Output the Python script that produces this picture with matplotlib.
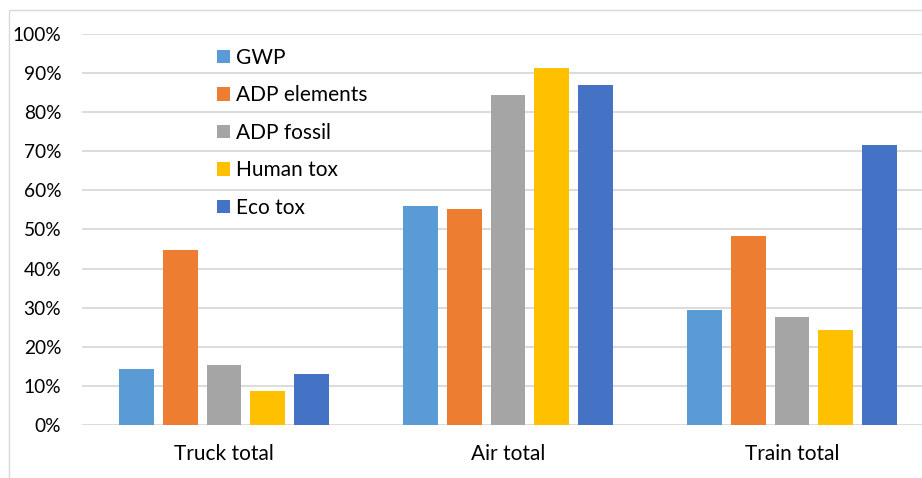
import matplotlib
matplotlib.use("Agg")
import matplotlib.pyplot as plt
import numpy as np
from matplotlib.patches import Rectangle
from matplotlib.ticker import PercentFormatter, MultipleLocator

categories = ["Truck total", "Air total", "Train total"]
series_names = ["GWP", "ADP elements", "ADP fossil", "Human tox", "Eco tox"]
gwp = [0.143, 0.560, 0.294]
adp_elements = [0.448, 0.552, 0.484]
adp_fossil = [0.154, 0.844, 0.275]
human_tox = [0.087, 0.912, 0.242]
eco_tox = [0.130, 0.869, 0.715]
colors = ["#5B9BD5", "#ED7D31", "#A5A5A5", "#FFC000", "#4472C4"]

plt.rcParams['font.family'] = ['Lato', 'DejaVu Sans']

W, H = 922, 478
fig = plt.figure(figsize=(W / 100, H / 100), dpi=100)

# chart border (light gray)
fig.add_artist(Rectangle((9 / W, -0.1), 2, (H - 10) / H + 0.1, transform=fig.transFigure,
                         fill=False, edgecolor="#D9D9D9", linewidth=1.0))

ax = fig.add_axes([82 / W, (H - 425) / H, 852 / W, 391 / H])

x = np.arange(len(categories))
step = 0.154
width = 0.123
all_series = [gwp, adp_elements, adp_fossil, human_tox, eco_tox]
for i, (name, vals, c) in enumerate(zip(series_names, all_series, colors)):
    ax.bar(x + (i - 2) * step, vals, width=width, color=c, label=name, zorder=3)

ax.set_xlim(-0.5, 2.5)
ax.set_ylim(0, 1.0)
ax.yaxis.set_major_locator(MultipleLocator(0.1))
ax.yaxis.set_major_formatter(PercentFormatter(1.0, decimals=0))
ax.set_xticks(x)
ax.set_xticklabels(categories)
ax.grid(axis='y', color="#D9D9D9", linewidth=1.3, zorder=0)
ax.set_axisbelow(True)
for s in ax.spines.values():
    s.set_visible(False)
ax.tick_params(axis='y', length=0, labelsize=13.8, colors="#000000", pad=15)
ax.tick_params(axis='x', length=0, labelsize=15, colors="#000000", pad=14)

leg = ax.legend(loc='upper left', bbox_to_anchor=(200 / W, (H - 31) / H),
                bbox_transform=fig.transFigure, frameon=False, fontsize=15,
                handlelength=0.62, handleheight=0.62, handletextpad=0.3,
                labelspacing=0.84, borderpad=0.3)

fig.savefig("out.png", dpi=100)
